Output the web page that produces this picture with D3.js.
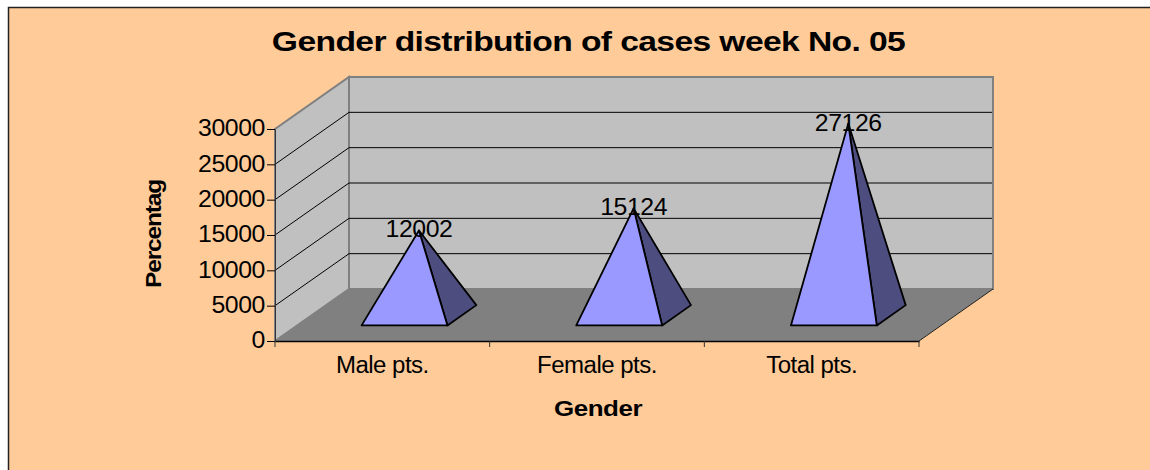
<!DOCTYPE html>
<html>
<head>
<meta charset="utf-8">
<script src="https://cdn.jsdelivr.net/npm/d3@7"></script>
<style>
  html, body { margin: 0; padding: 0; background: #fff; }
  svg { display: block; font-family: "Liberation Sans", Arial, sans-serif; }
</style>
</head>
<body>
<svg id="chart" width="1150" height="470"></svg>
<script>
const categories = ["Male pts.", "Female pts.", "Total pts."];
const values = [12002, 15124, 27126];
const yTicks = [0, 5000, 10000, 15000, 20000, 25000, 30000];
const titleText = "Gender distribution of cases week No. 05";
const xTitle = "Gender";
const yTitle = "Percentage";

const svg = d3.select("#chart");

// plot box: front plane plus the depth offset of the back wall
const plotLeft = 275, plotRight = 919, plotBottom = 341, plotTop = 129;
const depthX = 74, depthY = -52;

const x = d3.scaleBand().domain(categories).range([plotLeft, plotRight]).paddingInner(0.6).paddingOuter(0.3);
const y = d3.scaleLinear().domain([0, 30000]).range([plotBottom, plotTop]);

// z is the fraction of the chart depth, pyramids sit between these two
const zFront = 0.3, zBack = 0.69;
const px = (v, z) => v + depthX * z;
const py = (v, z) => y(v) + depthY * z;
const poly = pts => "M" + pts.map(p => p.join(",")).join("L") + "Z";

// the original text is tight but stretched sideways: negative spacing, then widen the glyphs
function widen(selection, spacing, ratio) {
  selection.attr("letter-spacing", spacing).each(function () {
    const w = this.getComputedTextLength();
    d3.select(this).attr("textLength", w * ratio).attr("lengthAdjust", "spacingAndGlyphs");
  });
}

svg.append("rect").attr("width", 1150).attr("height", 470).attr("fill", "#fff");
svg.append("rect").attr("x", 8.5).attr("y", 7.5).attr("width", 1160).attr("height", 480)
  .attr("fill", "#ffcc99").attr("stroke", "#222").attr("stroke-width", 1.5);

svg.append("text").attr("x", 588.5).attr("y", 51).attr("text-anchor", "middle")
  .attr("font-size", 28).attr("font-weight", "bold").text(titleText).call(widen, -0.5, 1.2);

// walls and floor
const y0 = y(0), yMax = y(30000);
svg.append("path").attr("fill", "#c0c0c0").attr("stroke", "#808080").attr("stroke-width", 2)
  .attr("d", poly([[plotLeft, y0], [px(plotLeft, 1), y0 + depthY], [px(plotLeft, 1), yMax + depthY], [plotLeft, yMax]]));
svg.append("path").attr("fill", "#c0c0c0").attr("stroke", "#808080").attr("stroke-width", 2)
  .attr("d", poly([[px(plotLeft, 1), y0 + depthY], [px(plotRight, 1), y0 + depthY], [px(plotRight, 1), yMax + depthY], [px(plotLeft, 1), yMax + depthY]]));
svg.append("path").attr("fill", "#808080")
  .attr("d", poly([[plotLeft, y0], [px(plotLeft, 1), y0 + depthY], [px(plotRight, 1), y0 + depthY], [plotRight, y0]]));

// gridlines on both walls
const grid = svg.append("g").attr("stroke", "#000").attr("stroke-width", 1).attr("fill", "none");
yTicks.filter(d => d > 0 && d < 30000).forEach(d => {
  grid.append("path").attr("d", `M${plotLeft},${y(d)}L${px(plotLeft, 1)},${y(d) + depthY}L${px(plotRight, 1) - 1},${y(d) + depthY}`);
});

// axes
const yAxis = d3.axisLeft(y).tickValues(yTicks).tickSize(8).tickSizeOuter(0).tickPadding(2).tickFormat(d3.format("d"));
const gy = svg.append("g").attr("transform", `translate(${plotLeft},0)`).call(yAxis);
gy.select(".domain").attr("stroke", "#333");
gy.selectAll("text").attr("font-size", 23).attr("font-family", "Liberation Sans").attr("fill", "#000")
  .attr("dy", "0.3em").call(widen, -0.4, 1.08);

const xAxis = d3.axisBottom(x).tickSize(0).tickPadding(16);
const gx = svg.append("g").attr("transform", `translate(0,${plotBottom})`).call(xAxis);
gx.select(".domain").attr("stroke", "#000").attr("stroke-width", 1.5);
gx.selectAll("text").attr("font-size", 23).attr("font-family", "Liberation Sans").attr("fill", "#000").call(widen, -0.5, 1.045);
const step = (plotRight - plotLeft) / categories.length;
const edges = [plotLeft].concat(categories.map((c, i) => plotLeft + step * (i + 1)));
svg.append("g").selectAll("line").data(edges).join("line")
  .attr("x1", d => d).attr("x2", d => d).attr("y1", plotBottom).attr("y2", plotBottom + 6).attr("stroke", "#333");
svg.append("line").attr("x1", plotRight).attr("y1", plotBottom).attr("x2", px(plotRight, 1)).attr("y2", plotBottom + depthY).attr("stroke", "#222");

// pyramids
const bars = svg.append("g").selectAll("g").data(categories).join("g");
bars.each(function (c, i) {
  const g = d3.select(this);
  const x0 = x(c), x1 = x(c) + x.bandwidth();
  const cx = (x0 + x1) / 2;
  const zMid = (zFront + zBack) / 2;
  const apex = [px(cx, zMid), py(values[i], zMid)];
  const fl = [px(x0, zFront), py(0, zFront)];
  const fr = [px(x1, zFront), py(0, zFront)];
  const br = [px(x1, zBack), py(0, zBack)];
  g.append("path").attr("d", poly([fr, br, apex])).attr("fill", "#4d4d80").attr("stroke", "#000").attr("stroke-width", 1.8).attr("stroke-linejoin", "round");
  g.append("path").attr("d", poly([fl, fr, apex])).attr("fill", "#9999ff").attr("stroke", "#000").attr("stroke-width", 1.8).attr("stroke-linejoin", "round");
  g.append("text").attr("x", apex[0]).attr("y", apex[1] + 7).attr("text-anchor", "middle")
    .attr("font-size", 23).text(values[i]).call(widen, -0.4, 1.08);
});

// axis titles
svg.append("text").attr("x", 598).attr("y", 416).attr("text-anchor", "middle")
  .attr("font-size", 22).attr("font-weight", "bold").text(xTitle).call(widen, -0.4, 1.18);

// the value axis title is cut off in the original
svg.append("clipPath").attr("id", "ytitle-clip").append("rect").attr("x", 130).attr("y", 179).attr("width", 50).attr("height", 120);
svg.append("g").attr("clip-path", "url(#ytitle-clip)")
  .append("text").attr("transform", "translate(161,288) rotate(-90)")
  .attr("font-size", 22).attr("font-weight", "bold").text(yTitle).call(widen, -1, 1.11);
</script>
</body>
</html>
